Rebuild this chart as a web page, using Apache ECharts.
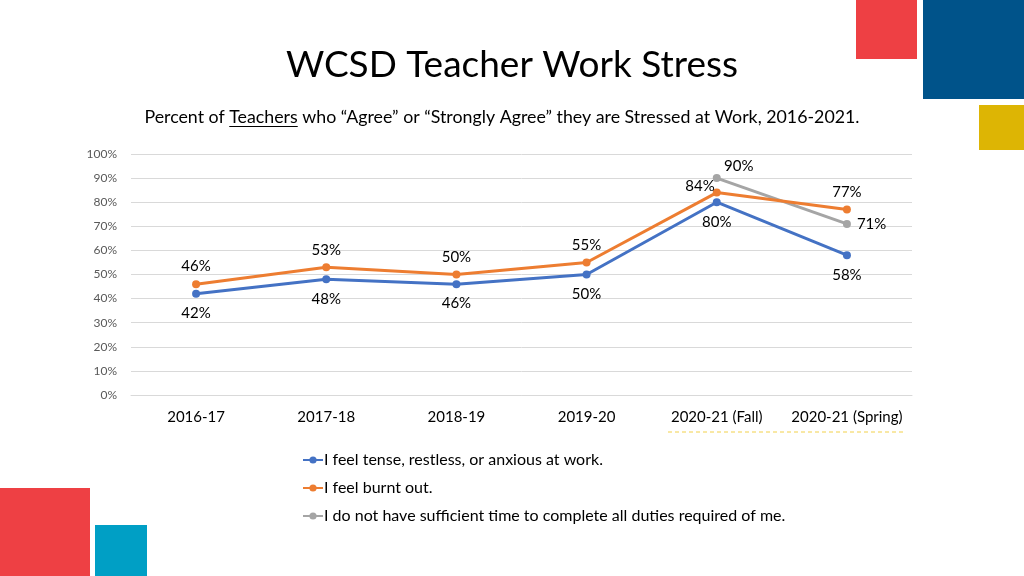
<!DOCTYPE html>
<html><head><meta charset="utf-8">
<script src="https://cdn.jsdelivr.net/npm/echarts@6/dist/echarts.min.js"></script>
<style>html,body{margin:0;padding:0;background:#fff}#c{width:1024px;height:576px}</style>
</head><body><div id="c"></div>
<script>
const categories = ['2016-17','2017-18','2018-19','2019-20','2020-21 (Fall)','2020-21 (Spring)'];
const tenseValues = [42, 48, 46, 50, 80, 58];
const burntValues = [46, 53, 50, 55, 84, 77];
const timeValues = [null, null, null, null, 90, 71];
const seriesNames = ['I feel tense, restless, or anxious at work.','I feel burnt out.','I do not have sufficient time to complete all duties required of me.'];
const yTicks = [0,10,20,30,40,50,60,70,80,90,100];

const FONT = 'Lato, "Open Sans", sans-serif';
const chart = echarts.init(document.getElementById('c'));

function items(vals, positions, offsets){
  return vals.map((v,i)=>({value:v, label:{position:positions[i], offset:offsets?offsets[i]:[0,0]}}));
}
const labelBase = {show:true, formatter:p=>p.value==null?'':p.value+'%', color:'#000', fontSize:15, fontFamily:FONT, distance:6};

// subtitle with underline
const subParts = ['Percent of ','Teachers',' who \u201cAgree\u201d or \u201cStrongly Agree\u201d they are Stressed at Work, 2016-2021.'];
const SUBFONT = '17.8px ' + FONT;
const cv = document.createElement('canvas').getContext('2d');
cv.font = SUBFONT;
const w0 = cv.measureText(subParts[0]).width, w1 = cv.measureText(subParts[1]).width;
const wAll = cv.measureText(subParts.join('')).width;
const subX = 502 - wAll/2;

chart.setOption({
  animation:false,
  grid:{left:131, right:112, top:154, bottom:181},
  xAxis:{type:'category', data:categories, boundaryGap:true,
    axisLine:{lineStyle:{color:'#d9d9d9'}}, axisTick:{show:false},
    axisLabel:{color:'#000', fontSize:15, fontFamily:FONT, margin:15, interval:0}},
  yAxis:{type:'value', min:0, max:100, interval:10,
    axisLabel:{formatter:'{value}%', color:'#595959', fontSize:12, fontFamily:FONT, margin:14},
    splitLine:{lineStyle:{color:'#d9d9d9'}}, axisLine:{show:false}, axisTick:{show:false}},
  legend:{orient:'vertical', left:297, top:447, itemGap:12, itemWidth:20, itemHeight:9,
    textStyle:{color:'#000', fontSize:16, fontFamily:FONT, padding:[0,0,0,-4]}, data:seriesNames},
  series:[
    {name:seriesNames[0], type:'line', data:items(tenseValues,['bottom','bottom','bottom','bottom','bottom','bottom']),
     symbol:'circle', symbolSize:8, lineStyle:{width:3,color:'#4472C4'}, itemStyle:{color:'#4472C4'}, label:Object.assign({}, labelBase, {distance:8}), z:3},
    {name:seriesNames[1], type:'line', data:items(burntValues,['top','top','top','top','left','top'],[[0,0],[0,0],[0,0],[0,0],[8,-6],[0,0]]),
     symbol:'circle', symbolSize:8, lineStyle:{width:3,color:'#ED7D31'}, itemStyle:{color:'#ED7D31'}, label:labelBase, z:4},
    {name:seriesNames[2], type:'line', data:items(timeValues,['top','top','top','top','top','right'],[[0,0],[0,0],[0,0],[0,0],[22,6],[0,0]]),
     symbol:'circle', symbolSize:8, lineStyle:{width:3,color:'#A5A5A5'}, itemStyle:{color:'#A5A5A5'}, label:labelBase, z:2}
  ],
  graphic:[
    {type:'rect', shape:{x:856,y:0,width:61,height:59}, style:{fill:'#EE4044'}},
    {type:'rect', shape:{x:923,y:0,width:101,height:99}, style:{fill:'#00538A'}},
    {type:'rect', shape:{x:979,y:105,width:45,height:45}, style:{fill:'#DDB504'}},
    {type:'rect', shape:{x:0,y:488,width:90,height:88}, style:{fill:'#EE4044'}},
    {type:'rect', shape:{x:95,y:525,width:52,height:51}, style:{fill:'#009FC5'}},
    {type:'text', x:512, y:65, style:{text:'WCSD Teacher Work Stress', font:'37px ' + FONT, fill:'#000', textAlign:'center', textVerticalAlign:'middle'}},
    {type:'text', x:subX, y:117, style:{text:subParts.join(''), font:SUBFONT, fill:'#000', textAlign:'left', textVerticalAlign:'middle'}},
    {type:'line', shape:{x1:subX+w0, y1:126.5, x2:subX+w0+w1, y2:126.5}, style:{stroke:'#000', lineWidth:1}},
    {type:'line', shape:{x1:668, y1:432, x2:905, y2:432}, style:{stroke:'#F2D14A', lineWidth:1, lineDash:[4,3]}}
  ]
});
</script></body></html>
